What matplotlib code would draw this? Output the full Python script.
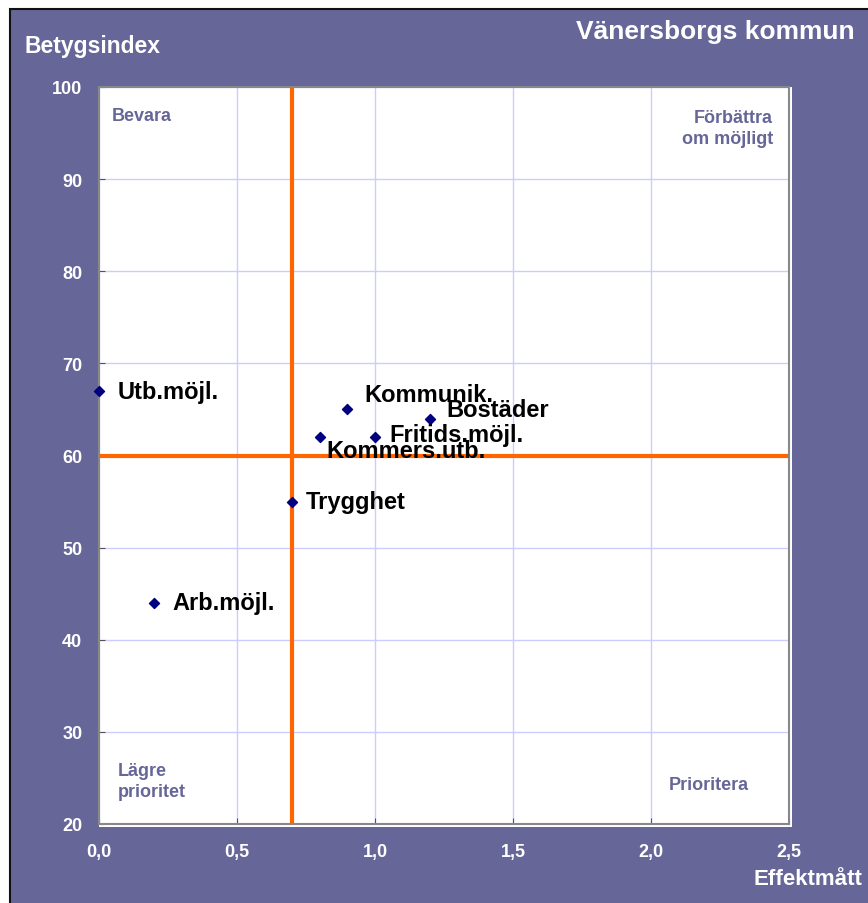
import matplotlib
matplotlib.use("Agg")
import matplotlib.pyplot as plt
from matplotlib.patches import Rectangle

plt.rcParams['font.family'] = ['Liberation Sans', 'DejaVu Sans']

labels = ["Utb.möjl.", "Kommunik.", "Bostäder", "Kommers.utb.", "Fritids.möjl.", "Trygghet", "Arb.möjl."]
effekt = [0.0, 0.9, 1.2, 0.8, 1.0, 0.7, 0.2]
betyg = [67, 65, 64, 62, 62, 55, 44]
label_offsets = [(13.5, 0), (12, 10.5), (11.5, 6.5), (5, -10), (10, 2), (10, 0), (13, 0)]
x_ticks = [0.0, 0.5, 1.0, 1.5, 2.0, 2.5]
x_ticklabels = ["0,0", "0,5", "1,0", "1,5", "2,0", "2,5"]
y_ticks = [20, 30, 40, 50, 60, 70, 80, 90, 100]
ref_x = 0.7
ref_y = 60

W, H = 868, 904
fig = plt.figure(figsize=(W / 100, H / 100), dpi=100)
fig.patch.set_facecolor("white")
purple = "#666699"
bg = Rectangle((10 / W, -0.01), 1.0, (H - 10) / H + 0.01, transform=fig.transFigure,
               facecolor=purple, edgecolor="#111111", linewidth=1.5, zorder=-10)
fig.patches.append(bg)

L, R, T, B = 99, 789, 88, 825
# white 3D shadow along bottom and right edges of the plot area
shadow = Rectangle((L / W, 1 - (B + 3) / H), (R + 3 - L) / W, (B + 3 - T) / H, transform=fig.transFigure,
                   facecolor="white", edgecolor="none", zorder=-5)
fig.patches.append(shadow)

ax = fig.add_axes([L / W, 1 - B / H, (R - L) / W, (B - T) / H], zorder=5)
ax.set_facecolor("white")
ax.set_xlim(0, 2.5)
ax.set_ylim(20, 100)
ax.set_xticks(x_ticks)
ax.set_xticklabels(x_ticklabels)
ax.set_yticks(y_ticks)
ax.grid(True, color="#CCCCFF", linewidth=1)
ax.set_axisbelow(True)
for s in ax.spines.values():
    s.set_color("#888888")
    s.set_linewidth(1.5)
ax.tick_params(axis="both", colors="#555555", direction="in", length=4,
               labelcolor="white", labelsize=13)
ax.tick_params(axis="x", pad=14)
ax.tick_params(axis="y", pad=12)
for t in ax.get_xticklabels() + ax.get_yticklabels():
    t.set_fontweight("bold")

ax.axvline(ref_x, color="#FF6600", linewidth=3, zorder=2)
ax.axhline(ref_y, color="#FF6600", linewidth=3, zorder=2)

ax.scatter(effekt, betyg, marker="D", s=26, color="#000080", zorder=4, clip_on=False)
for lab, x, y, off in zip(labels, effekt, betyg, label_offsets):
    ax.annotate(lab, (x, y), xytext=off, textcoords="offset points", fontsize=17,
                fontweight="bold", color="black", va="center", ha="left", zorder=5)

qc = "#666699"
ax.text(0.019, 0.962, "Bevara", transform=ax.transAxes, ha="left", va="center", fontsize=13, fontweight="bold", color=qc)
ax.text(0.977, 0.944, "Förbättra\nom möjligt", transform=ax.transAxes, ha="right", va="center", fontsize=13, fontweight="bold", color=qc, multialignment="right", linespacing=1.3)
ax.text(0.0275, 0.058, "Lägre\nprioritet", transform=ax.transAxes, ha="left", va="center", fontsize=13, fontweight="bold", color=qc, linespacing=1.3)
ax.text(0.942, 0.054, "Prioritera", transform=ax.transAxes, ha="right", va="center", fontsize=13, fontweight="bold", color=qc)

fig.text(576 / W, 1 - 32 / H, "Vänersborgs kommun", ha="left", va="center", fontsize=19, fontweight="bold", color="white")
fig.text(24 / W, 1 - 47 / H, "Betygsindex", ha="left", va="center", fontsize=16.5, fontweight="bold", color="white")
fig.text(862 / W, 1 - 880 / H, "Effektmått", ha="right", va="center", fontsize=16, fontweight="bold", color="white")

fig.savefig("out.png", dpi=100, facecolor=fig.get_facecolor())
